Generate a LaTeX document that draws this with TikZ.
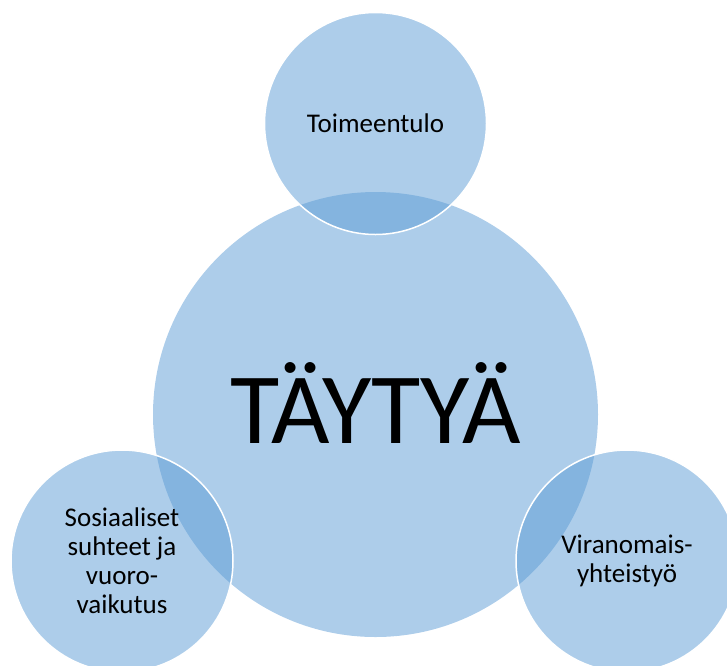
\documentclass[tikz,border=0pt]{standalone}
\usepackage{fontspec}
\setmainfont{Carlito}
\definecolor{circleblue}{HTML}{5B9BD5}

\begin{document}
\begin{tikzpicture}[x=1pt, y=-1pt,
	bigcircle/.style={circle, fill=circleblue, fill opacity=0.5, minimum size=445pt, inner sep=0pt},
	smallcircle/.style={circle, fill=circleblue, fill opacity=0.5, draw=white, line width=1.5pt, minimum size=222pt, inner sep=0pt},
	circletext/.style={font=\fontsize{27}{29}\selectfont, align=center, text=black, inner sep=0pt}]
	\useasboundingbox (0, 0) rectangle (727, 665);
	\clip (0, 0) rectangle (727, 665);

	\node[bigcircle] at (375.5, 414.5) (taytya) {};
	\node[smallcircle] at (375.5, 123.5) (toimeentulo) {};
	\node[smallcircle] at (122, 561) (sosiaaliset) {};
	\node[smallcircle] at (627, 561) (viranomais) {};

	\node[font=\fontsize{101}{101}\selectfont, anchor=base, inner sep=0pt] at ([yshift=-28.5pt]taytya.center) (taytyatext) {TÄYTYÄ};
	\node[circletext] at (toimeentulo.center) (toimeentulotext) {Toimeentulo};
	\node[circletext] at (sosiaaliset.center) (sosiaalisettext) {Sosiaaliset\\suhteet ja\\vuoro-\\vaikutus};
	\node[circletext] at (viranomais.center) (viranomaistext) {Viranomais-\\yhteistyö};
\end{tikzpicture}
\end{document}
